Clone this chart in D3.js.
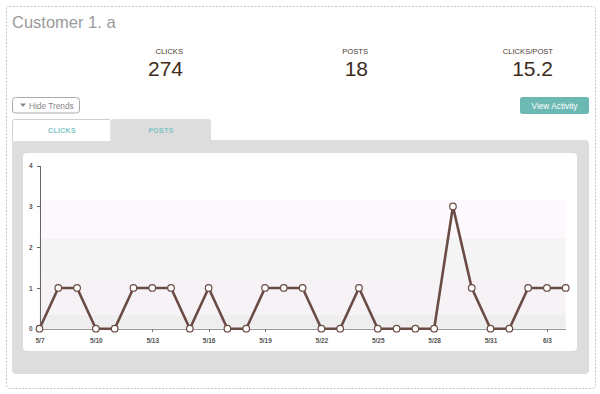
<!DOCTYPE html>
<html>
<head>
<meta charset="utf-8">
<script src="https://cdn.jsdelivr.net/npm/d3@7"></script>
<style>
  body { margin: 0; background: #fff; }
  svg { display: block; font-family: "Liberation Sans", Arial, sans-serif; }
  .axis path, .axis line { shape-rendering: crispEdges; }
</style>
</head>
<body>
<svg id="chart" width="600" height="394"></svg>
<script>
// Summary stats
const statLabels = ["CLICKS", "POSTS", "CLICKS/POST"];
const statValues = ["274", "18", "15.2"];

// Daily posts
const dates = ["5/7", "5/8", "5/9", "5/10", "5/11", "5/12", "5/13", "5/14", "5/15", "5/16",
  "5/17", "5/18", "5/19", "5/20", "5/21", "5/22", "5/23", "5/24", "5/25", "5/26",
  "5/27", "5/28", "5/29", "5/30", "5/31", "6/1", "6/2", "6/3", "6/4"];
const posts = [0, 1, 1, 0, 0, 1, 1, 1, 0, 1,
  0, 0, 1, 1, 1, 0, 0, 1, 0, 0,
  0, 0, 3, 1, 0, 0, 1, 1, 1];
const xTicks = ["5/7", "5/10", "5/13", "5/16", "5/19", "5/22", "5/25", "5/28", "5/31", "6/3"];
const yTicks = [0, 1, 2, 3, 4];

// Background bands (value ranges)
const bandEdges = [0, 0.34, 1.28, 2.23, 3.16];
const bandColors = ["#eeeeee", "#f6f2f6", "#f4f4f4", "#fdf8fd"];

const tabs = ["CLICKS", "POSTS"];

const svg = d3.select('#chart');

// outer dashed frame
svg.append('rect')
  .attr('x', 6.5).attr('y', 6.5).attr('width', 589).attr('height', 382)
  .attr('rx', 3)
  .attr('fill', 'none').attr('stroke', '#c4c4c4')
  .attr('stroke-dasharray', '2,1.5');

svg.append('text')
  .attr('x', 12).attr('y', 28)
  .attr('font-size', 16.5).attr('fill', '#9a9a9a')
  .text('Customer 1. a');

// stats
const statRight = [183, 368, 553];
statLabels.forEach((lab, i) => {
  svg.append('text')
    .attr('x', statRight[i]).attr('y', 53.5)
    .attr('text-anchor', 'end')
    .attr('font-size', 7.6).attr('fill', '#4a3b33')
    .text(lab);
  svg.append('text')
    .attr('x', statRight[i]).attr('y', 76)
    .attr('text-anchor', 'end')
    .attr('font-size', 21).attr('fill', '#3e2b20')
    .text(statValues[i]);
});

// Hide Trends button
svg.append('rect')
  .attr('x', 12.5).attr('y', 97.5).attr('width', 67).attr('height', 15.5)
  .attr('rx', 3).attr('fill', '#fff').attr('stroke', '#aaa');
svg.append('path')
  .attr('d', 'M20,103.5 L26,103.5 L23,107 Z')
  .attr('fill', '#888');
svg.append('text')
  .attr('x', 29).attr('y', 108.5)
  .attr('font-size', 8.3).attr('fill', '#888')
  .text('Hide Trends');

// View Activity button
svg.append('rect')
  .attr('x', 520).attr('y', 97).attr('width', 69).attr('height', 17)
  .attr('rx', 2.5).attr('fill', '#6cb8b3');
svg.append('text')
  .attr('x', 554.5).attr('y', 108.5)
  .attr('text-anchor', 'middle')
  .attr('font-size', 8.3).attr('fill', '#fff')
  .text('View Activity');

// panel
svg.append('rect')
  .attr('x', 12).attr('y', 140).attr('width', 577).attr('height', 234)
  .attr('rx', 4).attr('fill', '#dddddd');

// tabs
const tabX = [12, 111];
tabs.forEach((t, i) => {
  if (i === 0) {
    svg.append('path')
      .attr('d', `M${tabX[i] + 0.5},141 L${tabX[i] + 0.5},121.5 Q${tabX[i] + 0.5},119.5 ${tabX[i] + 2.5},119.5 L${tabX[i] + 97},119.5 Q${tabX[i] + 99},119.5 ${tabX[i] + 99},121.5 L${tabX[i] + 99},141`)
      .attr('fill', '#fff').attr('stroke', '#cfcfcf');
  } else {
    svg.append('path')
      .attr('d', `M${tabX[i]},141 L${tabX[i]},122 Q${tabX[i]},119 ${tabX[i] + 3},119 L${tabX[i] + 97},119 Q${tabX[i] + 100},119 ${tabX[i] + 100},122 L${tabX[i] + 100},141 Z`)
      .attr('fill', '#dddddd');
  }
  svg.append('text')
    .attr('x', tabX[i] + 50).attr('y', 133)
    .attr('text-anchor', 'middle')
    .attr('font-size', 7).attr('font-weight', 'bold')
    .attr('fill', '#7cc4c4').attr('letter-spacing', 0.3)
    .text(t);
});

// white chart card
svg.append('rect')
  .attr('x', 23).attr('y', 153).attr('width', 554).attr('height', 198)
  .attr('rx', 4).attr('fill', '#fff');

// scales
const x = d3.scalePoint().domain(dates).range([39.5, 565.7]);
const y = d3.scaleLinear().domain([0, 4]).range([328.7, 165.7]);

// bands
const g = svg.append('g');
bandColors.forEach((c, i) => {
  g.append('rect')
    .attr('x', x(dates[0]))
    .attr('width', x(dates[dates.length - 1]) - x(dates[0]))
    .attr('y', y(bandEdges[i + 1]))
    .attr('height', y(bandEdges[i]) - y(bandEdges[i + 1]))
    .attr('fill', c);
});

// axes
const yAxis = svg.append('g')
  .attr('class', 'axis')
  .attr('transform', 'translate(39.5,0)')
  .call(d3.axisLeft(y).tickValues(yTicks).tickFormat(d3.format('d')).tickSize(3).tickSizeOuter(0));
yAxis.select('.domain').attr('stroke', '#666');
yAxis.selectAll('line').attr('stroke', '#666');
yAxis.selectAll('text')
  .attr('font-size', 6.5).attr('font-weight', 'bold').attr('fill', '#555')
  .attr('font-family', '"Liberation Sans", Arial, sans-serif').attr('dx', -1);

const xAxis = svg.append('g')
  .attr('class', 'axis')
  .attr('transform', 'translate(0,329)')
  .call(d3.axisBottom(x).tickValues(xTicks).tickSize(3).tickSizeOuter(0));
xAxis.select('.domain').attr('stroke', '#999').attr('stroke-width', 1.5);
xAxis.selectAll('line').attr('stroke', '#777');
xAxis.selectAll('text')
  .attr('font-size', 6.5).attr('font-weight', 'bold').attr('fill', '#555')
  .attr('font-family', '"Liberation Sans", Arial, sans-serif').attr('dy', '1.2em');

// line
const line = d3.line()
  .x((d, i) => x(dates[i]))
  .y(d => y(d));
svg.append('path')
  .datum(posts)
  .attr('d', line)
  .attr('fill', 'none')
  .attr('stroke', '#6a4c44')
  .attr('stroke-width', 2.6)
  .attr('stroke-linejoin', 'round');

svg.append('g').selectAll('circle')
  .data(posts)
  .enter().append('circle')
  .attr('cx', (d, i) => x(dates[i]))
  .attr('cy', d => y(d))
  .attr('r', 3.3)
  .attr('fill', '#fff')
  .attr('stroke', '#6a4c44')
  .attr('stroke-width', 1.2);
</script>
</body>
</html>
